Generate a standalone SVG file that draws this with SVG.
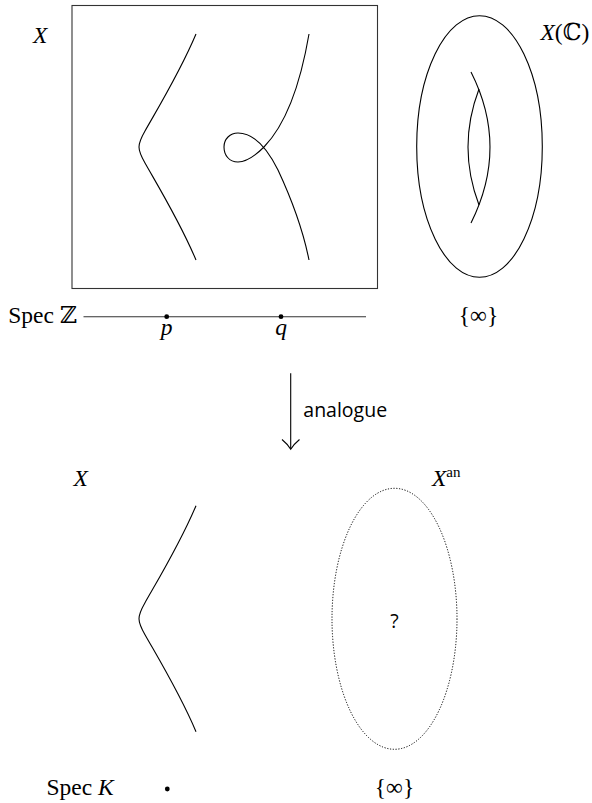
<svg xmlns="http://www.w3.org/2000/svg" width="592" height="803" viewBox="0 0 592 803">
<style>
.m{font-family:"Liberation Serif","DejaVu Serif",serif;font-size:23.5px;fill:#000}
.i{font-style:italic}
.s{font-family:"Open Sans","DejaVu Sans",sans-serif;font-size:19.5px;fill:#000}
.c{fill:none;stroke:#000;stroke-width:1.1}
.b{fill:none;stroke:#333;stroke-width:1.1}
</style>
<rect width="592" height="803" fill="#fff"/>
<g id="top-scheme">
<rect class="b" x="72" y="5.5" width="305.5" height="283"/>
<path class="c" d="M196,34 C180,72 158,108 145,131 C137,145 137,149 145,163 C158,186 180,222 196,260"/>
<path class="c" d="M309,34 C302,75 290,120 264,147 C255,156 246,162 238,162 C229,162 224,155 224,147 C224,139 230,133 238,133 C255,133 268,150 278,170 C292,200 304,235 309,260"/>
<text class="m i" x="33" y="43">X</text>
</g>
<g id="torus">
<ellipse class="c" cx="479.5" cy="146.5" rx="62.8" ry="130.8"/>
<path class="c" d="M471,72 Q509,147 471,223"/>
<path class="c" d="M479,89 Q457,147 479,205"/>
<text class="m" x="540.5" y="39.5"><tspan class="i">X</tspan>(ℂ)</text>
</g>
<g id="specZ">
<line class="b" x1="83.5" y1="316.7" x2="366" y2="316.7"/>
<circle cx="166.7" cy="316.7" r="2.4"/>
<circle cx="281" cy="316.7" r="2.4"/>
<text class="m" x="8.3" y="323.3">Spec ℤ</text>
<text class="m i" x="166.7" y="335" text-anchor="middle">p</text>
<text class="m i" x="281" y="335" text-anchor="middle">q</text>
</g>
<g id="infty-top">
<text class="m" x="478.5" y="323.3" text-anchor="middle">{∞}</text>
</g>
<g id="connectors">
<line class="c" x1="290.7" y1="373.3" x2="290.7" y2="449"/>
<path class="c" d="M282,439.5 Q287.5,444 290.7,449.3 Q294,444 299.5,439.5"/>
<text class="s" x="303.3" y="417.3">analogue</text>
</g>
<g id="bottom-scheme">
<path class="c" d="M196,505.7 C180,543.7 158,579.7 145,602.7 C137,616.7 137,620.7 145,634.7 C158,657.7 180,693.7 196,731.7"/>
<text class="m i" x="73.5" y="486">X</text>
</g>
<g id="analytic">
<ellipse cx="394.5" cy="618.8" rx="62.5" ry="130.5" fill="none" stroke="#000" stroke-width="1" stroke-dasharray="1.2 1.6"/>
<text class="s" x="394.5" y="628" text-anchor="middle">?</text>
<text class="m" x="432" y="486"><tspan class="i">X</tspan><tspan font-size="15" dy="-9">an</tspan></text>
</g>
<g id="specK">
<text class="m" x="46.5" y="795">Spec <tspan class="i">K</tspan></text>
<circle cx="167.3" cy="789" r="2.4"/>
</g>
<g id="infty-bottom">
<text class="m" x="394.5" y="795" text-anchor="middle">{∞}</text>
</g>
</svg>
